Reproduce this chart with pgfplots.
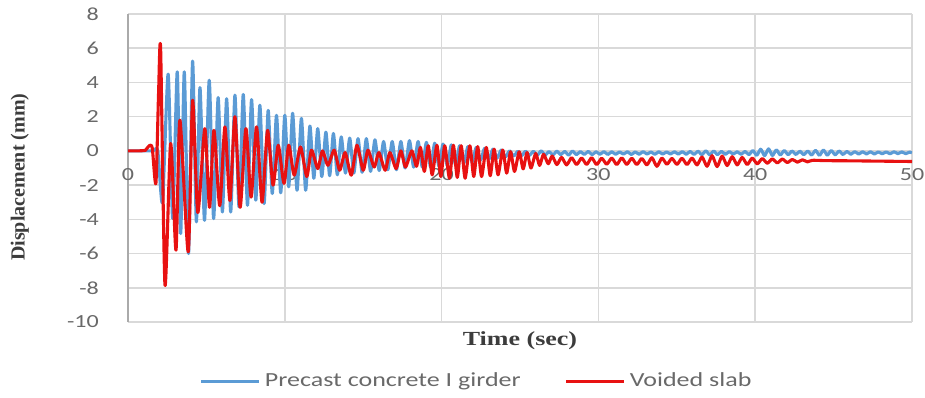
\documentclass[border=0pt]{standalone}
\usepackage{pgfplots}
\pgfplotsset{compat=1.18}
\usepackage{graphicx}
\usepackage{fontspec}
\setmainfont{Carlito}
\newfontfamily\titlefont{Liberation Serif}
\definecolor{girder}{RGB}{91,155,213}
\definecolor{slab}{RGB}{232,17,17}
\definecolor{gridgray}{RGB}{217,217,217}
\definecolor{axisgray}{RGB}{170,170,170}
\definecolor{ticktext}{RGB}{105,105,105}
\definecolor{labeltext}{RGB}{60,60,60}

\begin{document}
\begin{tikzpicture}
\useasboundingbox (0,0) rectangle (462.5pt,198.5pt);
\begin{axis}[
  at={(64pt,37.5pt)}, anchor=south west,
  scale only axis, width=392pt, height=154pt,
  xmin=0, xmax=50, ymin=-10, ymax=8,
  xtick={0,10,...,50}, ytick={-10,-8,...,8},
  axis x line=middle, axis y line=left,
  axis line style={-},
  x axis line style={draw=none},
  y axis line style={draw=axisgray, line width=1pt},
  hide obscured x ticks=false, hide obscured y ticks=false,
  major tick length=0pt,
  grid=major, grid style={gridgray, line width=0.75pt},
  /pgf/number format/assume math mode=true,
  tick label style={font=\fontsize{9.25}{11}\selectfont, text=ticktext},
  yticklabel style={anchor=east, xshift=-10pt, xscale=1.3},
  xticklabel style={anchor=north, yshift=-5.5pt, xscale=1.3},
  xlabel={\scalebox{1.3}[1]{\titlefont\bfseries Time (sec)}},
  xlabel style={at={(axis description cs:0.5,-0.062)}, anchor=center,
    font=\fontsize{10}{12}\selectfont, text=labeltext},
  ylabel={\titlefont\bfseries Displacement (mm)},
  ylabel style={at={(axis description cs:-0.138,0.47)}, anchor=center, rotate=0,
    font=\fontsize{10}{12}\selectfont, text=labeltext},
  legend style={at={(axis description cs:0.446,-0.192)}, anchor=center,
    draw=none, fill=none, legend columns=2,
    font=\fontsize{10}{12}\selectfont,
    /tikz/every even column/.append style={column sep=20pt}},
  legend image code/.code={\draw[#1] (0pt,0pt) -- (29pt,0pt);},
]

% Precast concrete I girder
\addplot[girder, line width=1.55pt, line join=round, smooth, tension=0.4] coordinates {
(0,0) (1.0,0) (1.6,0) (1.9,0) (2.2,-3.0) (2.56,4.49) (2.85,-3.95) (3.14,4.62) (3.36,-4.83) (3.59,4.62)
(3.86,-6.0) (4.12,5.25) (4.36,-4.15) (4.59,3.7) (4.88,-4.06) (5.18,4.13) (5.46,-3.96)
(5.75,3.12) (6.02,-3.57) (6.29,3.05) (6.55,-3.57) (6.82,3.26) (7.08,-3.27) (7.35,3.3)
(7.62,-3.18) (7.88,3.0) (8.15,-2.88) (8.41,2.67) (8.68,-3.08) (8.94,2.37) (9.2,-2.49)
(9.47,2.08) (9.74,-2.45) (10.0,2.08) (10.25,-2.1) (10.5,2.2) (10.78,-2.3) (11.06,1.9)
(11.33,-2.3) (11.6,1.45) (11.85,-1.6) (12.1,1.3) (12.36,-1.5) (12.62,1.1) (12.86,-1.45)
(13.1,1.02) (13.35,-1.4) (13.6,0.82) (13.87,-1.3) (14.14,0.75) (14.4,-1.3) (14.67,0.72)
(14.93,-1.25) (15.2,0.72) (15.47,-1.2) (15.75,0.65) (16.02,-1.15) (16.3,0.55) (16.57,-1.1)
(16.85,0.55) (17.12,-1.1) (17.4,0.55) (17.67,-1.0) (17.95,0.6) (18.22,-0.95) (18.5,0.55)
(18.77,-0.95) (19.03,0.5) (19.3,-0.95) (19.56,0.45) (19.83,-0.9) (20.09,0.4) (20.36,-0.85)
(20.62,0.35) (20.89,-0.8) (21.15,0.3) (21.42,-0.7) (21.68,0.25) (21.95,-0.65) (22.21,0.2)
(22.48,-0.55) (22.74,0.15) (23.01,-0.5) (23.27,0.1) (23.54,-0.42) (23.8,0.05) (24.07,-0.35)
(24.33,0.0) (24.6,-0.3) (24.86,-0.02)
(25.10,-0.28) (25.35,-0.02) (25.60,-0.26) (25.85,-0.03) (26.10,-0.25) (26.35,0.00)
(26.60,-0.24) (26.85,-0.04) (27.10,-0.23) (27.35,-0.02) (27.60,-0.22) (27.85,-0.03)
(28.10,-0.24) (28.35,-0.01) (28.60,-0.22) (28.85,-0.04) (29.10,-0.21) (29.35,-0.03)
(29.60,-0.22) (29.85,-0.05) (30.10,-0.20) (30.35,-0.04) (30.60,-0.21) (30.85,-0.05)
(31.10,-0.20) (31.35,-0.06) (31.60,-0.19) (31.85,-0.05) (32.10,-0.21) (32.35,-0.06)
(32.60,-0.20) (32.85,-0.04) (33.10,-0.19) (33.35,-0.06) (33.60,-0.20) (33.85,-0.05)
(34.10,-0.19) (34.35,-0.06) (34.60,-0.18) (34.85,-0.05) (35.10,-0.19) (35.35,-0.04)
(35.60,-0.20) (35.85,-0.03) (36.10,-0.21) (36.35,-0.02) (36.60,-0.22) (36.85,0.00)
(37.10,-0.23) (37.35,-0.01) (37.60,-0.22) (37.85,-0.03) (38.10,-0.20) (38.35,-0.04)
(38.60,-0.19) (38.85,-0.05) (39.10,-0.20) (39.35,-0.03) (39.60,-0.22) (39.85,0.02)
(40.10,-0.26) (40.35,0.10) (40.60,-0.28) (40.85,0.12) (41.10,-0.27) (41.35,0.06)
(41.60,-0.24) (41.85,0.02) (42.10,-0.22) (42.35,-0.01) (42.60,-0.21) (42.85,-0.02)
(43.10,-0.22) (43.35,-0.01) (43.60,-0.24) (43.85,0.03) (44.10,-0.26) (44.35,0.05)
(44.60,-0.25) (44.85,0.02) (45.10,-0.23) (45.35,-0.01) (45.60,-0.21) (45.85,-0.03)
(46.10,-0.20) (46.35,-0.04) (46.60,-0.19) (46.85,-0.05) (47.10,-0.18) (47.35,-0.05)
(47.60,-0.18) (47.85,-0.06) (48.10,-0.17) (48.35,-0.06) (48.60,-0.17) (48.85,-0.05)
(49.10,-0.16) (49.35,-0.06) (49.60,-0.16) (49.85,-0.07) (50.00,-0.12)
};
\addlegendentry{\textcolor{ticktext}{\scalebox{1.3}[1]{Precast concrete I girder}}}

% Voided slab
\addplot[slab, line width=1.55pt, line join=round, smooth, tension=0.4] coordinates {
(0,0) (0.5,0) (0.9,0.01) (1.10,0.03) (1.38,0.32) (1.55,0.15) (1.78,-1.9) (1.95,3.4) (2.08,6.0) (2.36,-7.85)
(2.72,0.43) (3.06,-5.8) (3.31,1.8) (3.84,-5.9) (4.12,2.96) (4.45,-3.6) (4.90,1.3)
(5.20,-3.3) (5.48,1.2) (5.85,-3.2) (6.18,1.4) (6.50,-2.9) (6.82,2.0) (7.15,-3.3)
(7.52,1.3) (7.85,-2.7) (8.20,1.4) (8.55,-3.0) (8.90,1.2) (9.25,-2.0) (9.58,0.33)
(9.95,-1.9) (10.25,0.33) (10.60,-1.42) (11.00,0.23) (11.40,-1.5) (11.70,0.04)
(12.10,-1.03) (12.40,0.0) (12.75,-0.84) (13.15,0.04) (13.50,-1.13) (13.85,-0.1)
(14.24,-1.42) (14.60,0.33) (15.00,-1.13) (15.30,0.04) (15.70,-0.94) (16.00,-0.1)
(16.40,-1.13) (16.70,-0.1) (17.10,-1.03) (17.40,0.0) (17.70,-0.94) (18.10,0.0)
(18.40,-0.9) (18.65,0.2) (18.90,-1.2) (19.15,0.3) (19.40,-1.4) (19.70,0.33)
(19.95,-1.5) (20.20,0.3) (20.50,-1.6) (20.75,0.33) (21.00,-1.55) (21.25,0.3)
(21.50,-1.6) (21.80,0.3) (22.05,-1.5) (22.30,0.25) (22.55,-1.5) (22.85,0.2)
(23.10,-1.45) (23.35,0.1) (23.60,-1.4) (23.90,0.05) (24.15,-1.3) (24.40,-0.05)
(24.65,-1.2) (24.95,-0.05) (25.20,-1.05) (25.45,-0.1) (25.70,-1.0) (26.00,-0.15)
(26.25,-0.85) (26.50,-0.2) (26.80,-0.75) (27.05,-0.3) (27.35,-0.8) (27.65,-0.38)
(27.97,-0.82) (28.29,-0.40) (28.61,-0.80) (28.93,-0.42) (29.25,-0.79) (29.57,-0.40)
(29.89,-0.80) (30.21,-0.43) (30.53,-0.78) (30.85,-0.42) (31.17,-0.80) (31.49,-0.41)
(31.81,-0.79) (32.13,-0.43) (32.45,-0.80) (32.77,-0.44) (33.09,-0.82) (33.41,-0.40)
(33.73,-0.90) (34.05,-0.42) (34.37,-0.78) (34.69,-0.44) (35.01,-0.79) (35.33,-0.43)
(35.65,-0.80) (35.97,-0.42) (36.29,-0.82) (36.61,-0.36) (36.93,-0.90) (37.25,-0.28)
(37.57,-0.92) (37.89,-0.30) (38.21,-0.86) (38.53,-0.34) (38.85,-0.82) (39.17,-0.38)
(39.49,-0.80) (39.81,-0.42) (40.13,-0.76) (40.45,-0.45) (40.77,-0.72) (41.09,-0.47)
(41.41,-0.70) (41.73,-0.48) (42.05,-0.68) (42.37,-0.50) (42.69,-0.66) (43.01,-0.52)
(43.33,-0.64) (43.65,-0.55) (44.5,-0.57) (46,-0.58) (48,-0.60) (50,-0.62)
};
\addlegendentry{\textcolor{ticktext}{\scalebox{1.3}[1]{Voided slab}}}

\end{axis}
\end{tikzpicture}
\end{document}
